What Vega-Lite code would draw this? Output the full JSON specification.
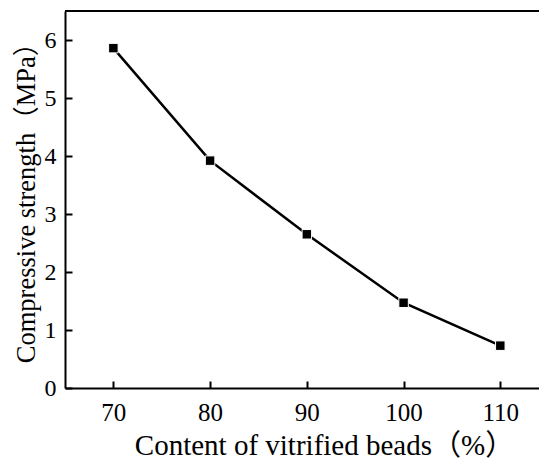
{
  "$schema": "https://vega.github.io/schema/vega-lite/v6.json",
  "width": 474,
  "height": 377,
  "autosize": {"type": "none"},
  "padding": {"left": 65, "top": 11, "right": 0, "bottom": 71},
  "background": "white",
  "config": {
    "view": {"stroke": null},
    "font": "Liberation Serif",
    "axis": {
      "domainColor": "black",
      "domainWidth": 2,
      "tickColor": "black",
      "tickWidth": 2,
      "grid": false,
      "labelColor": "black",
      "titleColor": "black",
      "labelFont": "Liberation Serif",
      "titleFont": "Liberation Serif, Noto Sans CJK SC",
      "titleFontWeight": "normal"
    }
  },
  "data": {
    "values": [
      {"content": 70, "strength": 5.86},
      {"content": 80, "strength": 3.92},
      {"content": 90, "strength": 2.65},
      {"content": 100, "strength": 1.47},
      {"content": 110, "strength": 0.73}
    ]
  },
  "layer": [
    {
      "mark": {"type": "rule", "color": "black", "strokeWidth": 2},
      "encoding": {"y": {"datum": 6.5, "type": "quantitative"}}
    },
    {
      "mark": {"type": "line", "color": "black", "strokeWidth": 2.5},
      "encoding": {
        "x": {
          "field": "content", "type": "quantitative",
          "scale": {"domain": [65, 114], "nice": false, "zero": false},
          "axis": {
            "values": [70, 80, 90, 100, 110],
            "tickSize": -7,
            "labelPadding": 19,
            "labelFontSize": 25,
            "title": "Content of vitrified beads（%）",
            "titleFontSize": 29,
            "titleX": 259,
            "titleY": 66,
            "titleBaseline": "alphabetic",
            "titleAlign": "center"
          }
        },
        "y": {
          "field": "strength", "type": "quantitative",
          "scale": {"domain": [0, 6.5], "nice": false},
          "axis": {
            "values": [0, 0.5, 1, 1.5, 2, 2.5, 3, 3.5, 4, 4.5, 5, 5.5, 6],
            "tickSize": {"expr": "datum.value % 1 === 0 ? -7 : -4"},
            "labelExpr": "datum.value % 1 === 0 ? format(datum.value, 'd') : ''",
            "labelPadding": 16,
            "labelFontSize": 24,
            "title": "Compressive strength（MPa）",
            "titleFontSize": 26.5,
            "titleX": -31,
            "titleY": 185,
            "titleAngle": -90,
            "titleBaseline": "alphabetic",
            "titleAlign": "center"
          }
        }
      }
    },
    {
      "mark": {"type": "square", "color": "black", "filled": true, "size": 90, "opacity": 1, "stroke": "white", "strokeWidth": 1},
      "encoding": {
        "x": {"field": "content", "type": "quantitative"},
        "y": {"field": "strength", "type": "quantitative"}
      }
    }
  ]
}
